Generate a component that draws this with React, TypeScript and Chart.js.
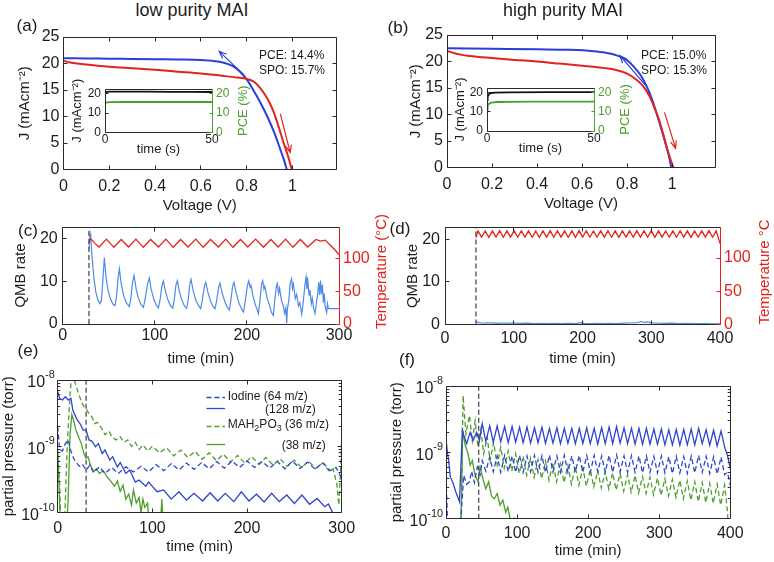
import React, { useEffect, useRef } from 'react';
import { Chart, registerables } from 'chart.js';

Chart.register(...registerables);

const FONT = '"Liberation Sans", Arial, Helvetica, sans-serif';
const INK = '#1c1c1c';
const AXIS = '#2a2a2a';
const JV_BLUE = '#2b3ddb';
const JV_RED = '#e3231d';
const QMB_BLUE = '#4d8be6';
const T_RED = '#e4221c';
const GREEN = '#4c9e2d';
const MS_BLUE = '#2f44d0';
const VLINE = '#4d4d4d';

// ---------- tick values ----------
const jvXTicks = [0, 0.2, 0.4, 0.6, 0.8, 1];
const jvYTicks = [0, 5, 10, 15, 20, 25];
const insetXTicks = [0, 50];
const insetYTicks = [0, 10, 20];
const timeTicksC = [0, 100, 200, 300];
const timeTicksD = [0, 100, 200, 300, 400];
const qmbTicks = [0, 10, 20];
const tempTicks = [0, 50, 100];
const logTicks = [1e-10, 1e-9, 1e-8];
const logMinor = [2e-10, 3e-10, 4e-10, 5e-10, 6e-10, 7e-10, 8e-10, 9e-10, 2e-9, 3e-9, 4e-9, 5e-9, 6e-9, 7e-9, 8e-9, 9e-9];
const logExponents = ['-10', '-9', '-8'];

// ---------- (a) J-V low purity ----------
const jvA_blue = [[0, 21.0], [0.1, 20.95], [0.2, 20.9], [0.3, 20.85], [0.4, 20.8], [0.5, 20.75], [0.6, 20.65], [0.65, 20.5], [0.7, 20.15], [0.74, 19.5], [0.77, 18.5], [0.8, 17.0], [0.83, 14.9], [0.86, 12.6], [0.89, 10.0], [0.92, 7.0], [0.945, 4.0], [0.962, 1.9], [0.975, 0]];
const jvA_red = [[0, 20.5], [0.03, 20.2], [0.06, 20.0], [0.1, 19.8], [0.2, 19.4], [0.3, 19.1], [0.4, 18.8], [0.5, 18.45], [0.6, 18.1], [0.7, 17.65], [0.76, 17.35], [0.8, 17.1], [0.83, 16.6], [0.855, 15.6], [0.88, 14.1], [0.9, 12.6], [0.92, 10.6], [0.94, 8.0], [0.96, 5.2], [0.98, 2.6], [0.997, 0]];
const arrowA_blue = [[0.789, 17.8], [0.68, 22.3]];
const arrowA_red = [[0.947, 10.5], [0.99, 3.2]];
const insetA_J = [[0, 20.3], [0.5, 20.8], [2, 21.0], [10, 21.0], [20, 21.0], [30, 20.95], [40, 20.9], [50, 20.85]];
const insetA_PCE = [[0, 14.8], [0.5, 15.4], [2, 15.6], [10, 15.7], [30, 15.7], [50, 15.7]];

// ---------- (b) J-V high purity ----------
const jvB_blue = [[0, 22.5], [0.2, 22.4], [0.4, 22.3], [0.55, 22.2], [0.65, 21.95], [0.7, 21.7], [0.75, 21.2], [0.8, 20.2], [0.83, 19.0], [0.86, 17.4], [0.89, 15.0], [0.91, 12.9], [0.93, 10.3], [0.95, 7.5], [0.97, 4.6], [0.985, 2.2], [0.996, 0]];
const jvB_red = [[0, 22.0], [0.03, 21.6], [0.06, 21.3], [0.1, 21.05], [0.2, 20.65], [0.3, 20.3], [0.4, 20.0], [0.5, 19.6], [0.6, 19.2], [0.7, 18.75], [0.75, 18.4], [0.8, 17.7], [0.84, 16.6], [0.87, 15.4], [0.9, 13.4], [0.92, 11.4], [0.94, 9.2], [0.96, 6.3], [0.98, 3.2], [1.0, 0.6], [1.005, 0]];
const arrowB_blue = [[0.88, 15.6], [0.768, 21.1]];
const arrowB_red = [[0.966, 10.4], [1.015, 3.6]];
const insetB_J = [[0, 16], [0.3, 18.0], [1, 19.3], [2, 19.8], [4, 20.0], [10, 20.1], [30, 20.2], [50, 20.2]];
const insetB_PCE = [[0, 11], [0.3, 13], [1, 14.3], [2, 14.8], [5, 15.1], [20, 15.3], [50, 15.3]];

// ---------- (c) QMB / temperature, low purity ----------
const vlineC = 28.5;
const qmbC = [[28.5, 17.5], [29.7, 21.2], [30.5, 20.0], [32, 15.5], [34, 10.5], [36, 7.5], [38, 5.8], [40.5, 4.8], [42, 5.5], [43.5, 10], [45.2, 15.6], [47, 11], [49.5, 7.6], [52, 5.8], [54.5, 4.7], [56.8, 4.3], [58.5, 6.5], [60, 10.5], [61.5, 13.0], [63.5, 9.5], [66, 6.8], [69, 5.0], [72.4, 4.1], [74, 6.0], [75.8, 9.8], [77.5, 11.4], [79.5, 8.5], [82, 6.2], [85, 4.6], [87.6, 3.9], [89.5, 5.8], [92.2, 9.5], [94.1, 10.8], [96, 8.2], [99, 5.8], [101.5, 4.5], [103.9, 3.8], [105.8, 5.8], [107.8, 9.0], [109.3, 10.1], [111.5, 7.8], [114.5, 5.5], [117, 4.3], [119.4, 3.7], [121, 5.6], [123, 9.2], [124.5, 10.2], [126.5, 7.8], [129.5, 5.5], [132, 4.3], [134.6, 3.7], [136.3, 5.7], [138, 9.4], [139.3, 10.5], [141.5, 8.0], [144.5, 5.6], [147.5, 4.3], [149.8, 3.6], [151.5, 5.5], [153.8, 8.8], [155.3, 9.8], [157.5, 7.6], [160.5, 5.4], [163, 4.2], [165.4, 3.6], [167, 5.3], [169.3, 8.6], [170.8, 9.6], [173, 7.4], [176, 5.3], [178.5, 4.0], [181, 3.3], [182.5, 5.4], [184.5, 8.9], [186, 9.8], [188, 7.6], [191, 5.2], [193.5, 3.8], [196.2, 2.8], [198, 5.0], [200.5, 9.0], [202, 10.1], [203.5, 8.6], [204.5, 9.1], [206.5, 6.6], [209.5, 4.3], [211, 3.5], [212.4, 2.4], [214, 5.2], [216, 9.5], [217.2, 10.2], [218.5, 8.2], [219.5, 8.9], [222, 6.0], [224.5, 4.5], [226.5, 2.8], [228.7, 2.0], [230, 5.0], [232, 8.8], [233, 9.5], [234.5, 7.2], [235.5, 8.4], [237.5, 5.5], [239.5, 4.3], [241, 2.5], [242.3, 3.8], [243.2, 0.2], [244, 3.5], [245.5, 5.5], [247, 9.5], [248.6, 10.6], [249.5, 8.3], [250.5, 9.4], [252.5, 6.0], [254, 7.0], [256, 4.2], [257.5, 5.0], [259.5, 2.3], [261, 4.8], [263, 9.2], [264.2, 11.0], [265.2, 8.2], [266.2, 10.0], [267.5, 6.8], [268.5, 8.0], [270, 4.8], [271, 6.0], [272.5, 3.6], [274, 2.5], [275.5, 5.0], [277, 7.5], [278, 9.8], [279, 6.8], [280, 10.2], [281, 7.0], [282, 9.2], [283, 5.0], [284, 7.2], [285, 4.0], [286.6, 2.7], [287.5, 4.8], [288.5, 3.6], [289.5, 3.6], [300, 3.6]];
const tempC = [[28.5, 124], [30.5, 130], [35, 123], [39.5, 117.5], [47.5, 129.5], [55.5, 117], [63.5, 129], [71.5, 117.5], [79.5, 129.5], [87.5, 117], [95.5, 129], [104, 117.5], [112, 129.5], [120, 117], [128, 129], [136, 117.5], [144.5, 129.5], [152.5, 117], [160.5, 129], [169, 117.5], [177, 129.5], [185, 117], [193, 129], [201, 117.5], [209.5, 129.5], [218, 117], [226, 129], [234, 117.5], [242, 129.5], [250, 117], [258, 129], [266, 117.5], [275, 129], [280, 126.5], [285, 128], [290, 121], [295, 114], [300, 106]];

// ---------- (d) QMB / temperature, high purity ----------
const vlineD = 45;
const qmbD = [[45, 0.8], [46, 0.6], [50, 0.45], [55, 0.3], [60, 0.38], [70, 0.4], [75, 0.28], [80, 0.3], [90, 0.35], [100, 0.3], [110, 0.25], [120, 0.3], [130, 0.22], [140, 0.28], [150, 0.2], [160, 0.25], [170, 0.2], [180, 0.25], [190, 0.2], [198, 0.45], [202, 0.25], [210, 0.22], [220, 0.25], [230, 0.2], [240, 0.28], [250, 0.22], [260, 0.3], [270, 0.35], [280, 0.45], [285, 0.7], [290, 0.5], [295, 0.6], [300, 0.4], [310, 0.3], [320, 0.25], [330, 0.3], [340, 0.22], [350, 0.25], [360, 0.2], [370, 0.22], [380, 0.2], [390, 0.18], [400, 0.2]];
const tempD = [[45, 131], [48, 141], [53.2, 131.5], [58.5, 140.8], [63.8, 131.2], [69, 141], [74.2, 131.5], [79.5, 141.2], [84.8, 131.4], [90, 140.9], [95.2, 131.5], [100.5, 141], [105.8, 131.3], [111, 141.1], [116.2, 131.5], [121.5, 141], [126.8, 131.4], [132, 140.8], [137.2, 131.2], [142.5, 141], [147.8, 131.5], [153, 141.2], [158.2, 131.3], [163.5, 141], [168.8, 131.5], [174, 140.9], [179.2, 131.4], [184.5, 141], [189.8, 131.2], [195, 141.3], [200.2, 131.5], [205.5, 141], [210.8, 131.4], [216, 140.8], [221.2, 131.3], [226.5, 141], [231.8, 131.5], [237, 141.1], [242.2, 131.4], [247.5, 141], [252.8, 131.2], [258, 140.9], [263.2, 131.5], [268.5, 141], [273.8, 131.3], [279, 141.2], [284.2, 131.5], [289.5, 141], [294.8, 131.4], [300, 141.3], [305.2, 131.2], [310.5, 141], [315.8, 131.5], [321, 140.8], [326.2, 131.3], [331.5, 141], [336.8, 131.4], [342, 141.1], [347.2, 131.5], [352.5, 141], [357.8, 131.2], [363, 140.9], [368.2, 131.4], [373.5, 141], [378.8, 131.5], [384, 141.2], [389.2, 131.3], [394.5, 141], [400, 122]];

// ---------- (e) partial pressures, low purity ----------
const vlineE = 30;
const iodine64E = [[0, 2.0e-9], [2, 9e-10], [5, 8.5e-10], [8, 1.1e-9], [11, 1.25e-9], [14, 8.5e-10], [17, 6.5e-10], [20, 5.6e-10], [23, 5.0e-10], [26, 5.4e-10], [30, 4.4e-10], [34, 5.2e-10], [38, 4.0e-10], [44, 4.9e-10], [50, 3.9e-10], [57, 4.8e-10], [64, 3.9e-10], [72, 4.9e-10], [80, 4.1e-10], [88, 5.0e-10], [96, 4.1e-10], [104, 5.3e-10], [112, 4.3e-10], [120, 5.5e-10], [128, 4.4e-10], [136, 5.6e-10], [144, 4.5e-10], [152, 5.7e-10], [160, 4.6e-10], [168, 5.9e-10], [176, 4.7e-10], [184, 6.0e-10], [192, 4.8e-10], [200, 6.0e-10], [208, 4.8e-10], [216, 5.9e-10], [224, 4.7e-10], [232, 5.9e-10], [240, 4.6e-10], [248, 6.0e-10], [256, 4.6e-10], [264, 5.8e-10], [272, 4.5e-10], [280, 5.7e-10], [288, 4.3e-10], [294, 4.8e-10], [300, 3.3e-10]];
const iodine128E = [[0, 6.7e-9], [2, 5.3e-9], [5, 5.0e-9], [8, 5.6e-9], [11, 5.0e-9], [14, 5.3e-9], [16, 3.5e-9], [20, 2.6e-9], [24, 2.15e-9], [27, 1.76e-9], [30, 1.75e-9], [33, 1.25e-9], [36, 1.2e-9], [40, 9.9e-10], [43, 1.1e-9], [47, 7.8e-10], [50, 8.8e-10], [55, 6.2e-10], [58, 7.0e-10], [63, 4.9e-10], [66, 5.7e-10], [72, 3.9e-10], [76, 4.4e-10], [82, 2.9e-10], [86, 3.1e-10], [93, 2.5e-10], [96, 2.9e-10], [105, 2.07e-10], [112, 2.2e-10], [120, 1.6e-10], [128, 2.07e-10], [136, 1.55e-10], [144, 1.96e-10], [153, 1.5e-10], [161, 2.0e-10], [169, 1.5e-10], [177, 1.96e-10], [186, 1.47e-10], [194, 2.07e-10], [202, 1.5e-10], [210, 1.9e-10], [218, 1.45e-10], [226, 1.96e-10], [234, 1.47e-10], [242, 1.85e-10], [250, 1.38e-10], [258, 1.85e-10], [266, 1.34e-10], [274, 1.64e-10], [282, 1.23e-10], [286, 1.35e-10], [290, 1.03e-10], [293, 8e-11]];
const mah36E = [[0, 7e-10], [2, 3e-10], [3.5, 5e-11], [7, 5e-11], [10, 1.0e-9], [13, 6e-9], [15, 1.3e-8], [17, 1.1e-8], [19, 8.4e-9], [22, 6.3e-9], [25, 4.7e-9], [28, 3.9e-9], [30, 3.7e-9], [33, 3.1e-9], [36, 2.8e-9], [39, 2.2e-9], [42, 2.3e-9], [46, 1.9e-9], [50, 1.5e-9], [54, 1.7e-9], [58, 1.35e-9], [62, 1.25e-9], [66, 1.4e-9], [70, 1.15e-9], [74, 1.25e-9], [78, 1.0e-9], [82, 1.15e-9], [86, 9.0e-10], [90, 1.05e-9], [95, 8.5e-10], [100, 1.0e-9], [107.5, 8.0e-10], [115, 9.5e-10], [122.5, 7.2e-10], [130, 8.8e-10], [137.5, 6.8e-10], [145, 8.4e-10], [152.5, 6.4e-10], [160, 8.0e-10], [167.5, 6.1e-10], [175, 7.6e-10], [182.5, 5.8e-10], [190, 7.3e-10], [197.5, 5.6e-10], [205, 7.0e-10], [212.5, 5.4e-10], [220, 6.8e-10], [227.5, 5.2e-10], [235, 6.5e-10], [242.5, 5.0e-10], [250, 6.2e-10], [257.5, 4.8e-10], [265, 6.0e-10], [272.5, 4.6e-10], [280, 5.6e-10], [287, 4.2e-10], [291, 4.6e-10], [295, 2.6e-10], [297, 1.3e-10], [299, 5.0e-10], [300, 1.3e-9]];
const mah38E = [[0, 9e-10], [1, 4e-10], [3, 5e-11], [9, 5e-11], [11, 1.5e-10], [13, 1.5e-9], [15, 3.0e-9], [17, 2.4e-9], [19, 1.8e-9], [22, 1.4e-9], [25, 1.1e-9], [28, 7.5e-10], [30, 6.6e-10], [32, 7.0e-10], [35, 5.0e-10], [38, 4.2e-10], [41, 4.6e-10], [44, 3.9e-10], [48, 4.3e-10], [52, 3.5e-10], [56, 3.0e-10], [60, 2.5e-10], [63, 3.0e-10], [66, 2.1e-10], [69, 2.6e-10], [72, 1.6e-10], [75, 1.9e-10], [78, 1.3e-10], [80, 2.2e-10], [83, 1.4e-10], [86, 1.7e-10], [88, 1.0e-10], [90, 1.6e-10], [92, 1.2e-10], [95, 1.4e-10], [97, 5e-11], [100, 7e-11], [108, 5e-11], [110, 1.6e-10], [112, 5e-11], [116, 5e-11]];

// ---------- (f) partial pressures, high purity ----------
const vlineF = 46;
const iodine64F = [[0, 4e-10], [1.5, 1.5e-10], [3, 5e-11], [20, 5e-11], [22, 1.5e-10], [25, 4.5e-10], [29, 3.3e-10], [33, 3.6e-10], [36, 5.2e-10], [40, 3.5e-10], [44, 6.0e-10], [48, 4.6e-10], [51, 7.5e-10], [56, 5.2e-10], [61.5, 8.5e-10], [66.5, 5.1e-10], [72, 8.8e-10], [77, 5.0e-10], [82.5, 9.0e-10], [87.5, 5.1e-10], [93, 8.8e-10], [98, 5.0e-10], [103.5, 9.0e-10], [108.5, 5.0e-10], [114, 8.8e-10], [119, 5.1e-10], [124.5, 9.0e-10], [129.5, 5.0e-10], [135, 8.9e-10], [140, 5.0e-10], [145.5, 9.1e-10], [150.5, 5.1e-10], [156, 8.8e-10], [161, 5.0e-10], [166.5, 9.0e-10], [171.5, 5.0e-10], [177, 8.8e-10], [182, 5.1e-10], [187.5, 9.0e-10], [192.5, 5.0e-10], [198, 8.9e-10], [203, 5.0e-10], [208.5, 9.0e-10], [213.5, 5.1e-10], [219, 8.8e-10], [224, 5.0e-10], [229.5, 9.0e-10], [234.5, 5.0e-10], [240, 9.1e-10], [245, 5.1e-10], [250.5, 8.8e-10], [255.5, 5.0e-10], [261, 8.9e-10], [266, 5.0e-10], [271.5, 8.8e-10], [276.5, 4.9e-10], [282, 8.8e-10], [287, 5.0e-10], [292.5, 8.7e-10], [297.5, 4.9e-10], [303, 8.8e-10], [308, 4.9e-10], [313.5, 8.6e-10], [318.5, 4.8e-10], [324, 8.7e-10], [329, 4.9e-10], [334.5, 8.6e-10], [339.5, 4.8e-10], [345, 8.8e-10], [350, 4.9e-10], [355.5, 9.0e-10], [360.5, 5.0e-10], [366, 8.7e-10], [371, 4.8e-10], [376.5, 8.6e-10], [381.5, 4.7e-10], [387, 8.5e-10], [392, 4.6e-10], [396, 5.0e-10], [400, 3.2e-10]];
const iodine128F = [[0, 1.6e-9], [2, 1.0e-9], [4, 7.2e-10], [6, 4.3e-10], [10, 3.4e-10], [14, 2.5e-10], [19, 1.8e-10], [23, 2.15e-9], [25, 1.8e-9], [29, 1.35e-9], [34, 2.0e-9], [38, 1.5e-9], [43, 2.0e-9], [47, 1.5e-9], [51, 2.7e-9], [56, 1.45e-9], [61.5, 2.5e-9], [66.5, 1.42e-9], [72, 2.5e-9], [77, 1.45e-9], [82.5, 2.45e-9], [87.5, 1.4e-9], [93, 2.45e-9], [98, 1.42e-9], [103.5, 2.4e-9], [108.5, 1.4e-9], [114, 2.4e-9], [119, 1.38e-9], [124.5, 2.35e-9], [129.5, 1.4e-9], [135, 2.4e-9], [140, 1.36e-9], [145.5, 2.3e-9], [150.5, 1.38e-9], [156, 2.35e-9], [161, 1.35e-9], [166.5, 2.3e-9], [171.5, 1.37e-9], [177, 2.3e-9], [182, 1.35e-9], [187.5, 2.3e-9], [192.5, 1.36e-9], [198, 2.35e-9], [203, 1.35e-9], [208.5, 2.3e-9], [213.5, 1.33e-9], [219, 2.35e-9], [224, 1.35e-9], [229.5, 2.4e-9], [234.5, 1.36e-9], [240, 2.45e-9], [245, 1.38e-9], [250.5, 2.35e-9], [255.5, 1.35e-9], [261, 2.3e-9], [266, 1.33e-9], [271.5, 2.3e-9], [276.5, 1.32e-9], [282, 2.3e-9], [287, 1.33e-9], [292.5, 2.25e-9], [297.5, 1.32e-9], [303, 2.25e-9], [308, 1.3e-9], [313.5, 2.2e-9], [318.5, 1.3e-9], [324, 2.2e-9], [329, 1.28e-9], [334.5, 2.2e-9], [339.5, 1.3e-9], [345, 2.25e-9], [350, 1.3e-9], [355.5, 2.3e-9], [360.5, 1.35e-9], [366, 2.2e-9], [371, 1.28e-9], [376.5, 2.15e-9], [381.5, 1.25e-9], [387, 2.1e-9], [392, 1.2e-9], [396, 9e-10], [400, 5.7e-10]];
const mah36F = [[0, 5e-11], [20, 5e-11], [21.5, 1.2e-10], [24, 7.2e-9], [28, 1.9e-9], [33, 3.6e-9], [37, 1.5e-9], [41, 3.0e-9], [45, 1.2e-9], [49, 2.2e-9], [53, 9.5e-10], [58, 1.7e-9], [62, 7.5e-10], [67, 1.4e-9], [72, 6.5e-10], [77, 1.2e-9], [82, 5.8e-10], [87.5, 1.05e-9], [92.5, 5.2e-10], [98, 9.5e-10], [103, 4.8e-10], [108.5, 8.8e-10], [113.5, 4.5e-10], [119, 8.2e-10], [124, 4.2e-10], [129.5, 7.8e-10], [134.5, 4.0e-10], [140, 7.4e-10], [145, 3.8e-10], [150.5, 7.0e-10], [155.5, 3.6e-10], [161, 6.7e-10], [166, 3.5e-10], [171.5, 6.4e-10], [176.5, 3.3e-10], [182, 6.1e-10], [187, 3.2e-10], [192.5, 5.8e-10], [197.5, 3.1e-10], [203, 5.5e-10], [208, 3.0e-10], [213.5, 5.3e-10], [218.5, 2.9e-10], [224, 5.1e-10], [229, 2.8e-10], [234.5, 4.9e-10], [239.5, 2.7e-10], [245, 4.8e-10], [250, 2.6e-10], [255.5, 4.6e-10], [260.5, 2.5e-10], [266, 4.5e-10], [271, 2.45e-10], [276.5, 4.3e-10], [281.5, 2.4e-10], [287, 4.2e-10], [292, 2.3e-10], [297.5, 4.1e-10], [302.5, 2.25e-10], [308, 4.0e-10], [313, 2.2e-10], [318.5, 3.9e-10], [323.5, 2.1e-10], [329, 3.8e-10], [334, 2.0e-10], [339.5, 3.7e-10], [344.5, 1.9e-10], [350, 3.6e-10], [355, 1.8e-10], [360.5, 3.5e-10], [365.5, 1.75e-10], [371, 3.4e-10], [376, 1.7e-10], [381.5, 3.3e-10], [386.5, 1.6e-10], [392, 3.2e-10], [396, 1.3e-10], [398, 5e-11], [400, 5e-11]];
const mah38F = [[0, 5e-11], [20, 5e-11], [21.5, 1.5e-10], [23.5, 2.15e-9], [27, 1.28e-9], [31, 9.6e-10], [34, 6.4e-10], [37, 7.5e-10], [41, 4.5e-10], [45, 3.6e-10], [48, 6.0e-10], [52, 4.0e-10], [56, 2.8e-10], [60, 3.6e-10], [64, 2.2e-10], [68, 2.0e-10], [72, 2.4e-10], [76, 1.6e-10], [80, 1.9e-10], [84, 1.25e-10], [87, 1.5e-10], [90, 1.0e-10], [93, 6e-11], [96, 1.05e-10], [98, 5e-11], [100, 5e-11]];

const legendTexts = ['Iodine (64 m/z)', '(128 m/z)', 'MAH_2PO_3 (36 m/z)', '(38 m/z)'];

// ---------- helpers ----------
const pts = (a: number[][]) => a.map(([x, y]) => ({ x, y }));
const vline = (x: number, y0: number, y1: number) => [[x, y0], [x, y1]];

function line(data: number[][], color: string, width: number, extra: any = {}) {
  return { data: pts(data), borderColor: color, backgroundColor: color, borderWidth: width, pointRadius: 0, fill: false, ...extra };
}

function xAxis(o: any) {
  return {
    type: 'linear', position: 'bottom', min: o.min, max: o.max,
    grid: { display: false, drawTicks: false }, border: { display: false },
    afterBuildTicks: (s: any) => { s.ticks = o.ticks.map((v: number) => ({ value: v })); },
    afterFit: (s: any) => { s.height = o.height; },
    ticks: { color: INK, font: { family: FONT, size: o.size }, padding: o.pad, maxRotation: 0, minRotation: 0, autoSkip: false, callback: (v: any) => String(v) },
    title: o.title ? { display: true, text: o.title, color: INK, font: { family: FONT, size: o.titleSize }, padding: { top: 0, bottom: o.titlePad } } : { display: false },
  };
}

function yAxis(o: any) {
  return {
    type: o.type || 'linear', position: o.position || 'left', min: o.min, max: o.max,
    grid: { display: false, drawTicks: false }, border: { display: false },
    afterBuildTicks: (s: any) => { s.ticks = o.ticks.map((v: number) => ({ value: v })); },
    afterFit: (s: any) => { s.width = o.width; },
    ticks: { color: o.color || INK, font: { family: FONT, size: o.size }, padding: o.pad, autoSkip: false, callback: o.fmt || ((v: any) => String(v)) },
    title: o.title ? { display: true, text: o.title, color: o.titleColor || INK, font: { family: FONT, size: o.titleSize }, padding: { top: o.titlePad, bottom: 0 } } : { display: false },
  };
}

function boxPlugin(cfg: { color: string; right?: string; len?: number; minor?: number[]; bg?: boolean }) {
  const len = cfg.len ?? 4;
  const sn = (v: number) => Math.round(v - 0.5) + 0.5;
  return {
    id: 'matBox',
    beforeDatasetsDraw(chart: any) {
      if (!cfg.bg) return;
      const a = chart.chartArea;
      chart.ctx.save();
      chart.ctx.fillStyle = '#ffffff';
      chart.ctx.fillRect(a.left, a.top, a.right - a.left, a.bottom - a.top);
      chart.ctx.restore();
    },
    afterDatasetsDraw(chart: any) {
      const { ctx, chartArea: a, scales } = chart;
      const L = sn(a.left), R = sn(a.right), T = sn(a.top), B = sn(a.bottom);
      const hasR = !!scales.y2;
      ctx.save();
      ctx.lineWidth = 1;
      ctx.setLineDash([]);
      ctx.strokeStyle = cfg.color;
      ctx.beginPath();
      for (const t of scales.x.ticks) {
        const p = sn(scales.x.getPixelForValue(t.value));
        ctx.moveTo(p, B); ctx.lineTo(p, B - len);
        ctx.moveTo(p, T); ctx.lineTo(p, T + len);
      }
      for (const t of scales.y.ticks) {
        const p = sn(scales.y.getPixelForValue(t.value));
        ctx.moveTo(L, p); ctx.lineTo(L + len, p);
        if (!hasR) { ctx.moveTo(R, p); ctx.lineTo(R - len, p); }
      }
      for (const v of cfg.minor || []) {
        const p = sn(scales.y.getPixelForValue(v));
        ctx.moveTo(L, p); ctx.lineTo(L + len * 0.7, p);
        ctx.moveTo(R, p); ctx.lineTo(R - len * 0.7, p);
      }
      ctx.moveTo(R, T); ctx.lineTo(L, T); ctx.lineTo(L, B); ctx.lineTo(R, B);
      if (!hasR) ctx.lineTo(R, T);
      ctx.stroke();
      if (hasR) {
        ctx.strokeStyle = cfg.right || cfg.color;
        ctx.beginPath();
        ctx.moveTo(R, T); ctx.lineTo(R, B);
        for (const t of scales.y2.ticks) {
          const p = sn(scales.y2.getPixelForValue(t.value));
          ctx.moveTo(R, p); ctx.lineTo(R - len, p);
        }
        ctx.stroke();
      }
      ctx.restore();
    },
  };
}

// draws "10" with a raised exponent next to each major tick of a log axis
function logLabelPlugin(size: number, gap: number) {
  return {
    id: 'logLabels',
    afterDraw(chart: any) {
      const { ctx, chartArea: a, scales } = chart;
      const ys = scales.y;
      ctx.save();
      ctx.fillStyle = INK;
      ctx.textBaseline = 'middle';
      ctx.textAlign = 'left';
      logTicks.forEach((v, i) => {
        const p = ys.getPixelForValue(v);
        const ex = logExponents[i];
        ctx.font = `${size * 0.68}px ${FONT}`;
        const ew = ctx.measureText(ex).width;
        ctx.font = `${size}px ${FONT}`;
        const bw = ctx.measureText('10').width;
        const xEnd = a.left - gap;
        ctx.fillText('10', xEnd - ew - bw, p + 3);
        ctx.font = `${size * 0.68}px ${FONT}`;
        ctx.fillText(ex, xEnd - ew, p - 5);
      });
      ctx.restore();
    },
  };
}

function rightTitlePlugin(cfg: { text: string; color: string; offset: number; size: number; dy?: number }) {
  return {
    id: 'rightTitle',
    afterDraw(chart: any) {
      const { ctx, chartArea: a } = chart;
      ctx.save();
      ctx.translate(a.right + cfg.offset, (a.top + a.bottom) / 2 + (cfg.dy || 0));
      ctx.rotate(-Math.PI / 2);
      ctx.font = `${cfg.size}px ${FONT}`;
      ctx.fillStyle = cfg.color;
      ctx.textAlign = 'center';
      ctx.textBaseline = 'middle';
      ctx.fillText(cfg.text, 0, 0);
      ctx.restore();
    },
  };
}

function arrowPlugin(items: { seg: number[][]; color: string }[]) {
  return {
    id: 'arrows',
    afterDatasetsDraw(chart: any) {
      const { ctx, scales } = chart;
      ctx.save();
      ctx.lineWidth = 1.2;
      ctx.setLineDash([]);
      for (const it of items) {
        const x0 = scales.x.getPixelForValue(it.seg[0][0]);
        const y0 = scales.y.getPixelForValue(it.seg[0][1]);
        const x1 = scales.x.getPixelForValue(it.seg[1][0]);
        const y1 = scales.y.getPixelForValue(it.seg[1][1]);
        const ang = Math.atan2(y1 - y0, x1 - x0);
        const h = 8, sp = 0.38;
        ctx.strokeStyle = it.color;
        ctx.beginPath();
        ctx.moveTo(x0, y0); ctx.lineTo(x1, y1);
        ctx.moveTo(x1 - h * Math.cos(ang - sp), y1 - h * Math.sin(ang - sp));
        ctx.lineTo(x1, y1);
        ctx.lineTo(x1 - h * Math.cos(ang + sp), y1 - h * Math.sin(ang + sp));
        ctx.stroke();
      }
      ctx.restore();
    },
  };
}

function drawRich(ctx: any, text: string, x: number, y: number, size: number) {
  const parts = text.split(/(_\d)/).filter(Boolean);
  let cx = x;
  for (const p of parts) {
    if (p.startsWith('_')) {
      ctx.font = `${size * 0.75}px ${FONT}`;
      ctx.fillText(p.slice(1), cx, y + size * 0.32);
      cx += ctx.measureText(p.slice(1)).width;
    } else {
      ctx.font = `${size}px ${FONT}`;
      ctx.fillText(p, cx, y);
      cx += ctx.measureText(p).width;
    }
  }
}

function legendPlugin(origin: number[], rows: any[]) {
  return {
    id: 'msLegend',
    afterDraw(chart: any) {
      const ctx = chart.ctx;
      ctx.save();
      for (const r of rows) {
        ctx.strokeStyle = r.color;
        ctx.lineWidth = 1.3;
        ctx.setLineDash(r.dash || []);
        ctx.beginPath();
        ctx.moveTo(r.lx0 - origin[0], r.ly - origin[1]);
        ctx.lineTo(r.lx1 - origin[0], r.ly - origin[1]);
        ctx.stroke();
        ctx.setLineDash([]);
        ctx.fillStyle = INK;
        ctx.textAlign = 'left';
        ctx.textBaseline = 'middle';
        drawRich(ctx, r.text, r.tx - origin[0], r.ty - origin[1], 12);
      }
      ctx.restore();
    },
  };
}

function baseOptions(padding: any, scales: any) {
  return {
    animation: false, responsive: false, maintainAspectRatio: false, events: [],
    layout: { padding },
    scales,
    plugins: { legend: { display: false }, tooltip: { enabled: false }, title: { display: false } },
    elements: { point: { radius: 0 }, line: { tension: 0 } },
  };
}

// ---------- chart configs ----------
function jvConfig(p: any) {
  return {
    type: 'line',
    data: {
      datasets: [
        line(p.red, JV_RED, 2, { cubicInterpolationMode: 'monotone' }),
        line(p.blue, JV_BLUE, 2, { cubicInterpolationMode: 'monotone' }),
      ],
    },
    options: baseOptions({ left: 0, top: 16, right: p.padR, bottom: 0 }, {
      x: xAxis({ min: 0, max: 1.19, ticks: jvXTicks, height: p.xh, pad: 7, title: 'Voltage (V)', titlePad: p.xtp, size: 16, titleSize: 15 }),
      y: yAxis({ min: 0, max: 25, ticks: jvYTicks, width: p.yw, pad: 4, title: 'J (mAcm⁻²)', titlePad: p.ytp, size: 16, titleSize: 15 }),
    }),
    plugins: [boxPlugin({ color: AXIS }), arrowPlugin([{ seg: p.arrowBlue, color: JV_BLUE }, { seg: p.arrowRed, color: JV_RED }])],
  };
}

function insetConfig(p: any) {
  return {
    type: 'line',
    data: {
      datasets: [
        line(p.J, '#111111', 1.8, { yAxisID: 'y' }),
        line(p.PCE, GREEN, 1.8, { yAxisID: 'y2' }),
      ],
    },
    options: baseOptions({ left: 0, top: 16, right: 0, bottom: 0 }, {
      x: xAxis({ min: 0, max: 50, ticks: insetXTicks, height: p.xh, pad: 0, title: 'time (s)', titlePad: 5, size: 12, titleSize: 13 }),
      y: yAxis({ min: 0, max: 22.4, ticks: insetYTicks, width: 43, pad: 4, title: 'J (mAcm⁻²)', titlePad: p.ytp, size: 12, titleSize: 13 }),
      y2: yAxis({ min: 0, max: 22.4, ticks: insetYTicks, width: 40, pad: 4, position: 'right', color: GREEN, size: 12 }),
    }),
    plugins: [boxPlugin({ color: AXIS, right: GREEN, len: 3, bg: true }), rightTitlePlugin({ text: 'PCE (%)', color: GREEN, offset: 31.5, size: 13 })],
  };
}

function qmbConfig(p: any) {
  return {
    type: 'line',
    data: {
      datasets: [
        line(vline(p.vx, 0, p.ymax), VLINE, 1.3, { borderDash: [5, 3] }),
        line(p.temp, T_RED, 1.3, { yAxisID: 'y2' }),
        line(p.qmb, QMB_BLUE, 1.2, { yAxisID: 'y' }),
      ],
    },
    options: baseOptions({ left: 0, top: p.padT, right: 0, bottom: 0 }, {
      x: xAxis({ min: 0, max: p.xmax, ticks: p.xticks, height: p.xh, pad: p.xpad, title: 'time (min)', titlePad: p.xtp, size: 16, titleSize: 15 }),
      y: yAxis({ min: 0, max: p.ymax, ticks: qmbTicks, width: p.yw, pad: 5, title: 'QMB rate', titlePad: p.ytp, size: 16, titleSize: 15 }),
      y2: yAxis({ min: 0, max: p.y2max, ticks: tempTicks, width: p.y2w, pad: 4, position: 'right', color: T_RED, size: 16 }),
    }),
    plugins: [boxPlugin({ color: AXIS, right: T_RED }), rightTitlePlugin({ text: p.rtitle, color: T_RED, offset: p.rto, size: 15, dy: -4 })],
  };
}

function msConfig(p: any) {
  const plugins: any[] = [boxPlugin({ color: AXIS, minor: logMinor }), logLabelPlugin(16, 3)];
  if (p.legend) plugins.push(p.legend);
  return {
    type: 'line',
    data: {
      datasets: [
        line(vline(p.vx, 1e-10, 1e-8), VLINE, 1.3, { borderDash: [5, 3] }),
        line(p.i64, MS_BLUE, 1.3, { borderDash: [5, 3] }),
        line(p.i128, MS_BLUE, 1.3),
        line(p.m36, GREEN, 1.3, { borderDash: [5, 3] }),
        line(p.m38, GREEN, 1.3),
      ],
    },
    options: baseOptions({ left: 0, top: 16, right: p.padR, bottom: 0 }, {
      x: xAxis({ min: 0, max: p.xmax, ticks: p.xticks, height: p.xh, pad: p.xpad, title: 'time (min)', titlePad: p.xtp, size: 16, titleSize: 15 }),
      y: yAxis({ type: 'logarithmic', min: 1e-10, max: 1e-8, ticks: logTicks, width: p.yw, pad: 3, fmt: () => '', title: 'partial pressure (torr)', titlePad: 0, size: 16, titleSize: 15 }),
    }),
    plugins,
  };
}

const legendE = legendPlugin([0, 364], [
  { text: legendTexts[0], color: MS_BLUE, dash: [5, 3], lx0: 206.5, lx1: 225, ly: 397.5, tx: 227.7, ty: 396.7 },
  { text: legendTexts[1], color: MS_BLUE, lx0: 206.5, lx1: 225, ly: 408.5, tx: 265, ty: 410 },
  { text: legendTexts[2], color: GREEN, dash: [5, 3], lx0: 206.5, lx1: 225, ly: 426.5, tx: 227.7, ty: 424.3 },
  { text: legendTexts[3], color: GREEN, lx0: 206.5, lx1: 225, ly: 444.5, tx: 281.7, ty: 446 },
]);

const panels = [
  { rect: { x: 0, y: 21, w: 345, h: 197 }, make: () => jvConfig({ red: jvA_red, blue: jvA_blue, arrowBlue: arrowA_blue, arrowRed: arrowA_red, padR: 9, xh: 48.5, yw: 63.5, xtp: 3, ytp: 16 }) },
  { rect: { x: 385, y: 19, w: 345, h: 199 }, make: () => jvConfig({ red: jvB_red, blue: jvB_blue, arrowBlue: arrowB_blue, arrowRed: arrowB_red, padR: 15, xh: 50.5, yw: 62, xtp: 5, ytp: 22 }) },
  { rect: { x: 62, y: 73, w: 190, h: 89 }, make: () => insetConfig({ J: insetA_J, PCE: insetA_PCE, xh: 29.5, ytp: 8 }) },
  { rect: { x: 444, y: 72, w: 190, h: 89 }, make: () => insetConfig({ J: insetB_J, PCE: insetB_PCE, xh: 30, ytp: 9 }) },
  { rect: { x: 0, y: 211, w: 395, h: 159 }, make: () => qmbConfig({ vx: vlineC, qmb: qmbC, temp: tempC, ymax: 22.8, y2max: 148, padT: 16, xmax: 300, xticks: timeTicksC, xh: 46, xpad: 2, xtp: 2.5, yw: 62.7, ytp: 12, y2w: 56, rtitle: 'Temperature (°C)', rto: 43 }) },
  { rect: { x: 388, y: 211, w: 386, h: 159 }, make: () => qmbConfig({ vx: vlineD, qmb: qmbD, temp: tempD, ymax: 22.8, y2max: 146, padT: 16.5, xmax: 400, xticks: timeTicksD, xh: 45.5, xpad: 4.4, xtp: 2, yw: 57, ytp: 16, y2w: 54, rtitle: 'Temperature °C', rto: 45 }) },
  { rect: { x: 0, y: 364, w: 364, h: 198 }, make: () => msConfig({ vx: vlineE, i64: iodine64E, i128: iodine128E, m36: mah36E, m38: mah38E, padR: 22.3, xmax: 300, xticks: timeTicksC, xh: 49.3, xpad: 6.7, xtp: 6.5, yw: 57.7, legend: legendE }) },
  { rect: { x: 388, y: 370, w: 366, h: 192 }, make: () => msConfig({ vx: vlineF, i64: iodine64F, i128: iodine128F, m36: mah36F, m38: mah38F, padR: 23.7, xmax: 400, xticks: timeTicksD, xh: 43.3, xpad: 5.7, xtp: 2, yw: 58 }) },
];

function Panel({ rect, make }: { rect: { x: number; y: number; w: number; h: number }; make: () => any }) {
  const ref = useRef<HTMLCanvasElement>(null);
  useEffect(() => {
    const chart = new Chart(ref.current as HTMLCanvasElement, make());
    return () => chart.destroy();
  }, []);
  return (
    <canvas
      ref={ref}
      width={rect.w}
      height={rect.h}
      style={{ position: 'absolute', left: rect.x, top: rect.y, width: rect.w, height: rect.h }}
    />
  );
}

function Label({ x, y, size, text, left }: { x: number; y: number; size: number; text: string; left?: boolean }) {
  return (
    <div
      style={{
        position: 'absolute', left: x, top: y,
        transform: left ? 'translate(0,-50%)' : 'translate(-50%,-50%)',
        fontFamily: FONT, fontSize: size, lineHeight: 1, whiteSpace: 'nowrap', color: INK,
      }}
    >
      {text}
    </div>
  );
}

const labels = [
  { x: 192, y: 10, size: 18, text: 'low purity MAI' },
  { x: 563, y: 10, size: 18, text: 'high purity MAI' },
  { x: 27, y: 25, size: 17, text: '(a)' },
  { x: 398, y: 27, size: 17, text: '(b)' },
  { x: 28, y: 230, size: 17, text: '(c)' },
  { x: 400, y: 228, size: 17, text: '(d)' },
  { x: 28, y: 350, size: 17, text: '(e)' },
  { x: 407, y: 359, size: 17, text: '(f)' },
  { x: 259, y: 55, size: 12, text: 'PCE: 14.4%', left: true },
  { x: 259, y: 69.5, size: 12, text: 'SPO: 15.7%', left: true },
  { x: 641, y: 54.5, size: 12, text: 'PCE: 15.0%', left: true },
  { x: 641, y: 70, size: 12, text: 'SPO: 15.3%', left: true },
];

export default function App() {
  return (
    <div style={{ position: 'absolute', left: 0, top: 0, width: 774, height: 562, background: '#ffffff', overflow: 'hidden' }}>
      {panels.map((p, i) => (
        <Panel key={i} rect={p.rect} make={p.make} />
      ))}
      {labels.map((l, i) => (
        <Label key={'l' + i} {...l} />
      ))}
    </div>
  );
}
